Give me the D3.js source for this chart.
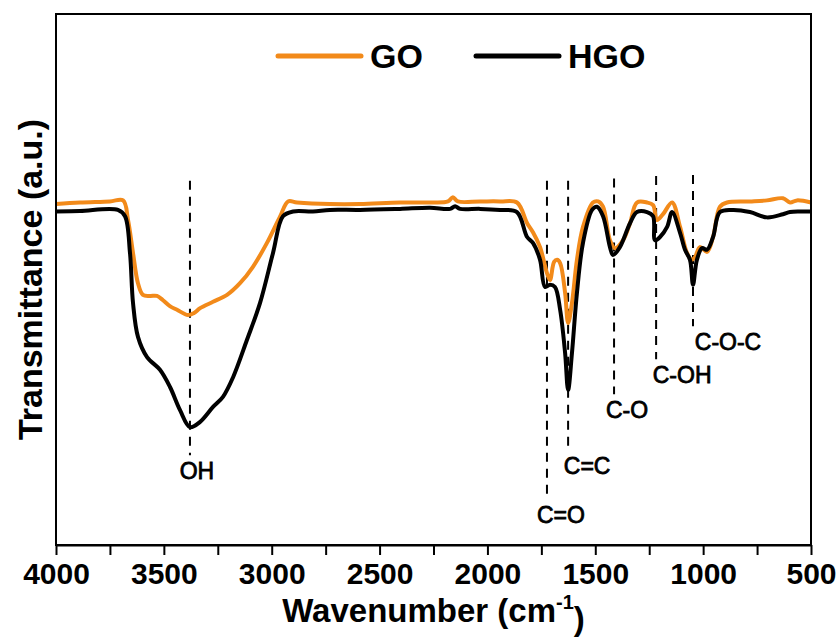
<!DOCTYPE html>
<html>
<head>
<meta charset="utf-8">
<script src="https://cdn.jsdelivr.net/npm/d3@7"></script>
<style>
  body { margin: 0; background: #fff; }
  svg text { font-family: "Liberation Sans", Arial, sans-serif; }
</style>
</head>
<body>
<div id="chart"></div>
<script>
// FTIR spectra (wavenumber cm-1, transmittance a.u.)
var goWave = [4000, 3889, 3750, 3689, 3666, 3643, 3620, 3597, 3564, 3532, 3504, 3472, 3439, 3388, 3360, 3332,
  3272, 3207, 3147, 3087, 3022, 2961, 2924, 2883, 2730, 2591, 2405, 2266, 2183, 2160, 2137, 2034, 1941, 1863,
  1816, 1789, 1756, 1724, 1710, 1691, 1677, 1663, 1640, 1626, 1608, 1585, 1557, 1511, 1487, 1464, 1432, 1409,
  1371, 1339, 1307, 1260, 1232, 1214, 1186, 1144, 1107, 1075, 1052, 1038, 1015, 982, 954, 922, 889, 783, 704,
  630, 597, 565, 500]
var goTrans = [64.2, 64.5, 64.7, 64.9, 61.2, 55.0, 49.3, 47.1, 46.9, 46.9, 46.1, 45.0, 44.3, 43.3, 43.7, 44.6,
  45.8, 47.1, 49.3, 52.4, 56.9, 61.9, 64.7, 64.5, 64.2, 64.2, 64.5, 64.5, 64.7, 65.5, 64.7, 64.7, 64.7, 64.5,
  60.6, 58.9, 56.1, 51.2, 49.9, 53.3, 53.7, 53.1, 47.5, 41.8, 45.6, 53.7, 59.9, 64.5, 64.7, 63.7, 57.4, 55.9,
  57.4, 60.6, 64.5, 64.5, 64.0, 61.2, 62.3, 64.5, 59.9, 55.0, 53.7, 54.2, 56.1, 55.2, 58.0, 63.7, 64.5, 64.7, 64.9,
  65.3, 64.5, 64.9, 64.5]

var hgoWave = [4000, 3889, 3713, 3680, 3657, 3643, 3620, 3578, 3518, 3472, 3425, 3379, 3332, 3272, 3226, 3179,
  3115, 3054, 2994, 2948, 2901, 2809, 2730, 2591, 2405, 2266, 2173, 2150, 2127, 2034, 1941, 1863, 1816, 1789,
  1756, 1733, 1710, 1687, 1663, 1640, 1626, 1608, 1585, 1557, 1515, 1492, 1464, 1432, 1418, 1386, 1339, 1307,
  1260, 1232, 1223, 1200, 1167, 1144, 1107, 1084, 1061, 1047, 1029, 1005, 982, 954, 922, 862, 783, 704, 630,
  597, 551, 500]
var hgoTrans = [62.8, 62.9, 63.1, 61.9, 55.0, 45.6, 39.2, 35.4, 33.0, 29.8, 25.4, 22.2, 23.2, 26.0, 27.9, 31.6,
  38.6, 45.6, 55.0, 61.9, 62.8, 62.8, 63.1, 63.1, 63.3, 63.5, 63.3, 63.8, 63.3, 63.3, 63.1, 62.7, 58.0, 56.9,
  53.7, 48.6, 49.0, 48.6, 44.3, 36.2, 29.2, 36.2, 47.5, 56.9, 63.1, 63.7, 61.9, 56.1, 54.6, 56.1, 60.6, 62.7,
  62.7, 61.9, 57.4, 58.0, 59.9, 62.7, 58.8, 55.6, 53.7, 49.0, 53.7, 55.9, 55.6, 58.0, 62.7, 63.1, 62.7, 61.7, 62.3,
  62.7, 62.8, 62.8]

// peak assignments: position, label, dashed line top/bottom (a.u.)
var peakWave = [3379, 1724, 1626, 1413, 1218, 1047]
var peakLabel = ["OH", "C=O", "C=C", "C-O", "C-OH", "C-O-C"]
var peakTop = [68.6, 68.6, 68.6, 69.0, 69.5, 69.7]
var peakBottom = [16.9, 9.0, 18.3, 28.4, 35.0, 41.2]

var xTicks = [4000, 3500, 3000, 2500, 2000, 1500, 1000, 500]

var margin = { top: 14, right: 27, bottom: 92, left: 56 },
    width = 838 - margin.left - margin.right,
    height = 637 - margin.top - margin.bottom;

var svg = d3.select("#chart")
    .append("svg")
    .attr("width", 838)
    .attr("height", 637)
    .append("g")
    .attr("transform", "translate(" + margin.left + "," + margin.top + ")");

var x = d3.scaleLinear().domain([4000, 500]).range([0, width])
var y = d3.scaleLinear().domain([0, 100]).range([height, 0])

var line = d3.line()
    .x(d => x(d[0]))
    .y(d => y(d[1]))
    .curve(d3.curveCatmullRom.alpha(0.5))

var goData = d3.zip(goWave, goTrans)
var hgoData = d3.zip(hgoWave, hgoTrans)

// dashed peak markers
peakWave.forEach(function (w, i) {
    svg.append("line")
        .attr("x1", x(w)).attr("x2", x(w))
        .attr("y1", y(peakTop[i])).attr("y2", y(peakBottom[i]))
        .attr("stroke", "#000")
        .attr("stroke-width", 2)
        .attr("stroke-dasharray", "9,7")
})

svg.append("path").datum(goData)
    .attr("d", line)
    .attr("fill", "none")
    .attr("stroke", "#f28a1a")
    .attr("stroke-width", 4)

svg.append("path").datum(hgoData)
    .attr("d", line)
    .attr("fill", "none")
    .attr("stroke", "#000")
    .attr("stroke-width", 4)

// peak labels
var labelDx = [7, 14, 19, 13, 26, 35]
var labelDy = [24, 26, 26, 24, 24, 24]
peakWave.forEach(function (w, i) {
    svg.append("text")
        .attr("x", x(w) + labelDx[i])
        .attr("y", y(peakBottom[i]) + labelDy[i])
        .attr("text-anchor", "middle")
        .attr("stroke", "#000")
        .attr("stroke-width", 0.8)
        .style("font-size", "23px")
        .text(peakLabel[i])
})

// frame
svg.append("rect")
    .attr("width", width).attr("height", height)
    .attr("fill", "none")
    .attr("stroke", "#000")
    .attr("stroke-width", 2)

// bottom axis
var xAxis = svg.append("g")
    .attr("transform", "translate(0," + height + ")")
    .call(d3.axisBottom(x).tickValues(d3.range(4000, 499, -250)).tickSize(10).tickSizeOuter(0)
        .tickFormat(d => xTicks.includes(d) ? d : ""))
xAxis.select(".domain").attr("stroke-width", 2)
xAxis.selectAll(".tick line").attr("stroke-width", 2)
xAxis.selectAll(".tick text")
    .attr("dy", "0.85em")
    .style("font-size", "30px")
    .style("font-weight", "bold")
    .style("font-family", "'Liberation Sans', Arial, sans-serif")

// axis titles
var xTitle = svg.append("text")
    .attr("x", width / 2)
    .attr("y", height + 77)
    .attr("text-anchor", "middle")
    .style("font-size", "33px")
    .style("font-weight", "bold")
xTitle.append("tspan").text("Wavenumber (cm")
xTitle.append("tspan").attr("dy", "-0.65em").style("font-size", "20px").text("-1")
xTitle.append("tspan").attr("dy", "0.65em").text(")")

svg.append("text")
    .attr("transform", "rotate(-90)")
    .attr("x", -height / 2)
    .attr("y", -14)
    .attr("text-anchor", "middle")
    .style("font-size", "34px")
    .style("font-weight", "bold")
    .text("Transmittance (a.u.)")

// legend
var legendNames = ["GO", "HGO"]
var legendColors = ["#f28a1a", "#000"]
var legendX = [222, 420]
legendNames.forEach(function (name, i) {
    svg.append("line")
        .attr("x1", legendX[i]).attr("x2", legendX[i] + 83)
        .attr("y1", 42).attr("y2", 42)
        .attr("stroke", legendColors[i])
        .attr("stroke-width", 5)
        .attr("stroke-linecap", "round")
    svg.append("text")
        .attr("x", legendX[i] + 92)
        .attr("y", 54)
        .style("font-size", "34px")
        .style("font-weight", "bold")
        .text(name)
})
</script>
</body>
</html>
